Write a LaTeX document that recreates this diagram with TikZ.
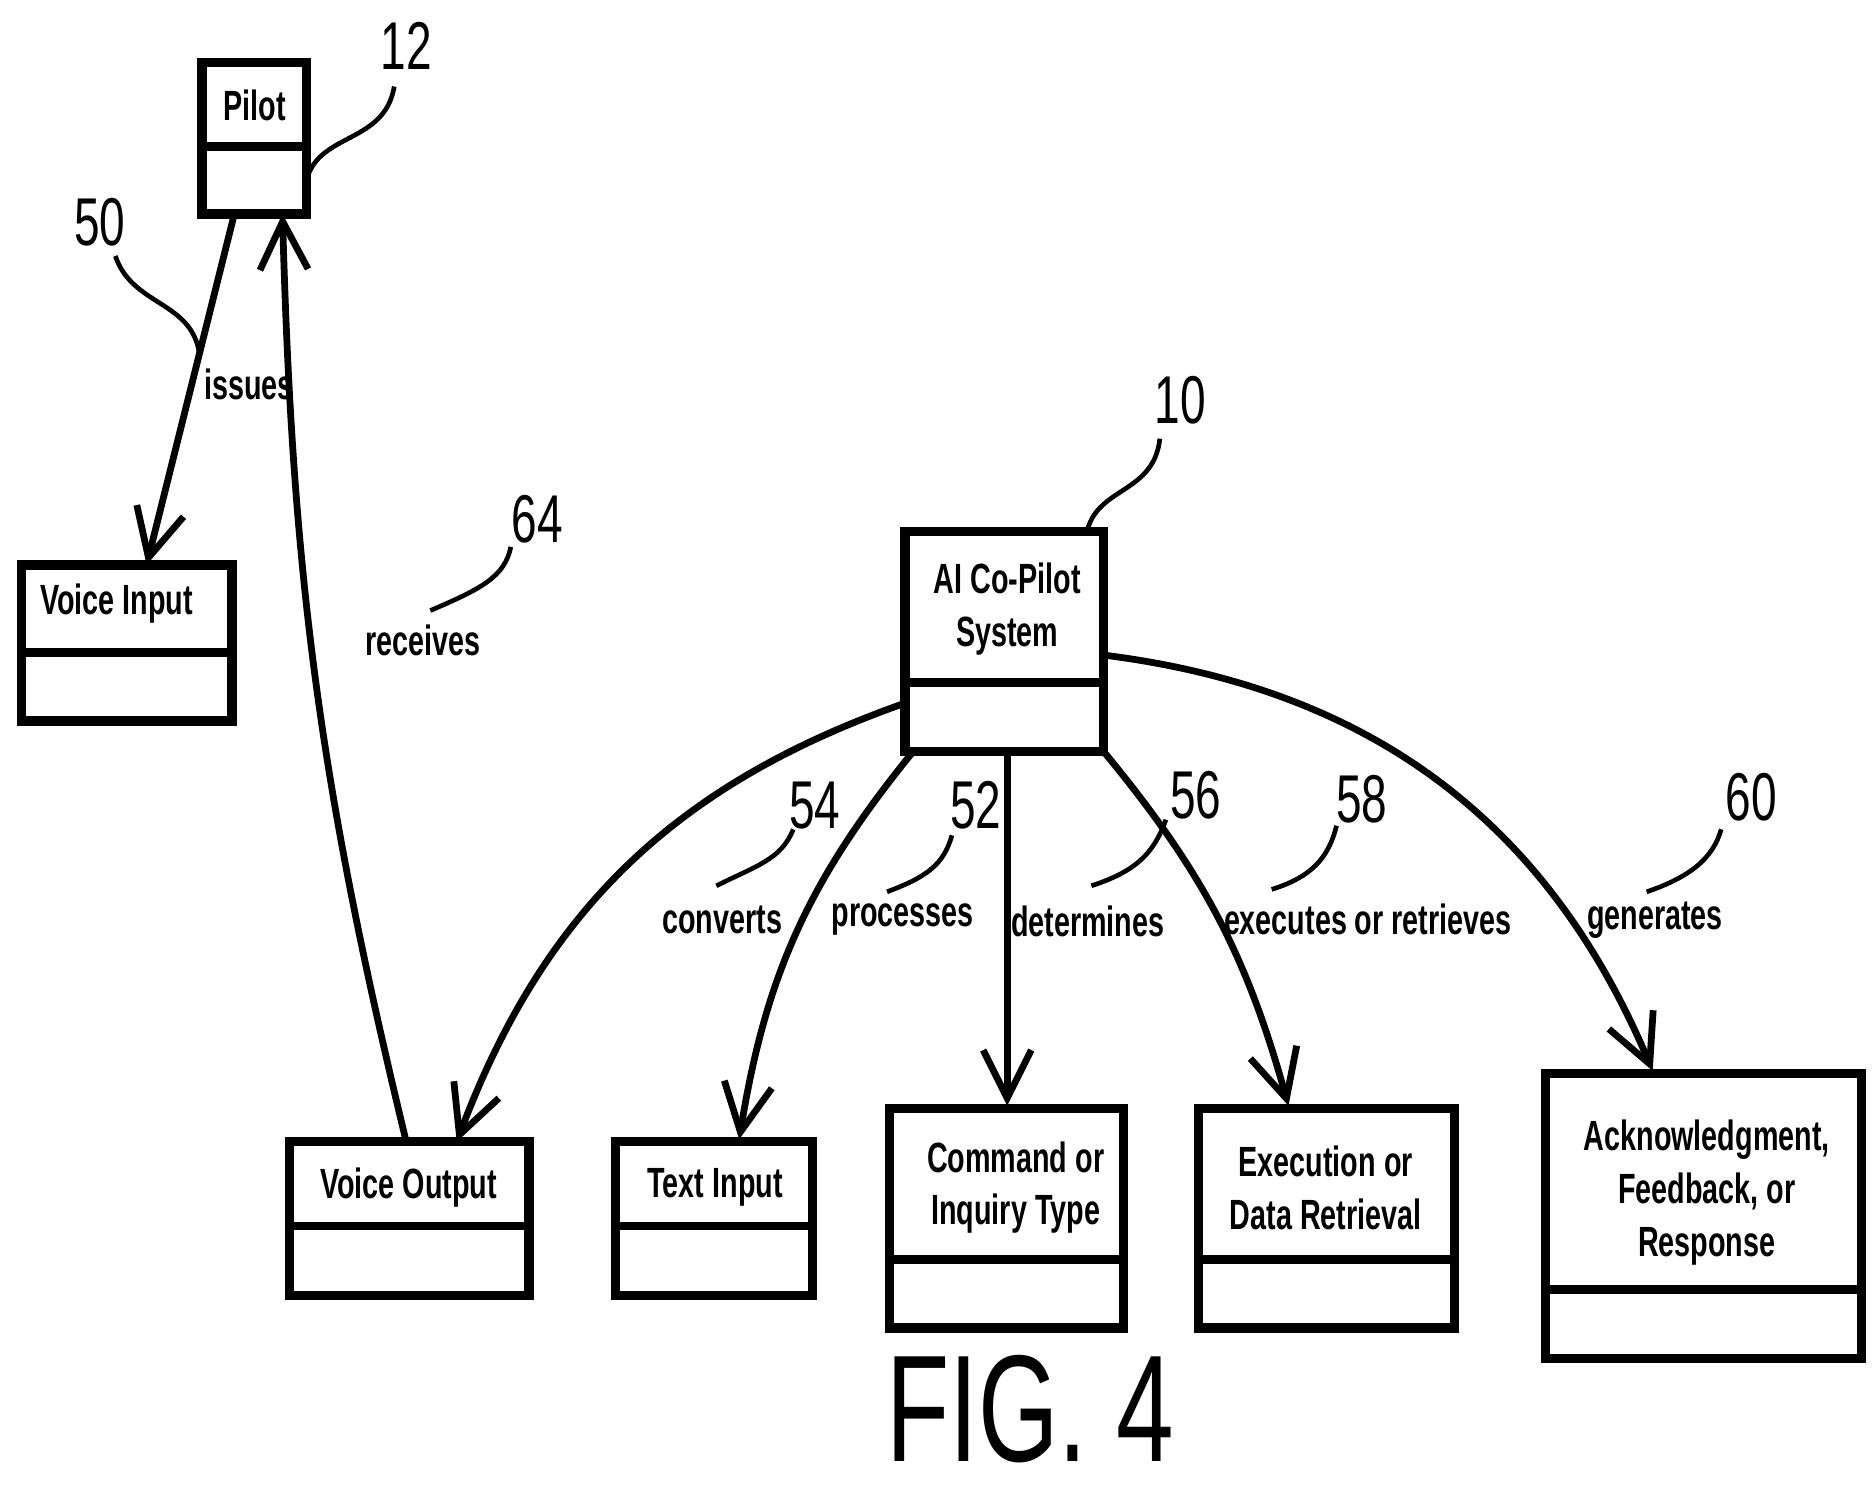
\documentclass[tikz,border=0pt]{standalone}
\usepackage{fontspec}
\newfontfamily\narrow{Liberation Sans}[FakeStretch=0.68]
\usetikzlibrary{arrows.meta}
\begin{document}
\begin{tikzpicture}[x=0.01cm,y=-0.01cm,
  box/.style={draw,line width=2.2pt},
  dv/.style={line width=2pt},
  lbl/.style={font=\narrow\bfseries\fontsize{10}{12.5}\selectfont,align=center},
  num/.style={font=\narrow\fontsize{16}{18}\selectfont},
  con/.style={line width=1.6pt,-{Straight Barb[length=4mm,width=4mm,line width=1.6pt]}},
  lead/.style={line width=1.1pt}]
\useasboundingbox (0,0) rectangle (1560,1240);
\newcommand\umlbox[6]{%
  \draw[box] (#2,#3) rectangle (#4,#5);
  \draw[dv] (#2,#6) -- (#4,#6);
  \coordinate (#1-nw) at (#2,#3);}
\umlbox{pilot}{168}{52}{255}{178}{122}
\node[lbl] (pilotT) at (212,88) {Pilot};
\umlbox{vin}{18}{470}{193}{600}{543}
\node[lbl] (vinT) at (97,502) {Voice Input};
\umlbox{ai}{753}{442}{918}{625}{568}
\node[lbl] (aiT) at (838,507) {AI Co-Pilot\\System};
\umlbox{vout}{241}{950}{440}{1078}{1020}
\node[lbl] (voutT) at (340,988) {Voice Output};
\umlbox{tin}{512}{950}{676}{1078}{1020}
\node[lbl] (tinT) at (595,988) {Text Input};
\umlbox{cmd}{740}{922}{935}{1105}{1048}
\node[lbl] (cmdT) at (845,988) {Command or\\Inquiry Type};
\umlbox{exe}{997}{922}{1210}{1105}{1048}
\node[lbl] (exeT) at (1103,988) {Execution or\\Data Retrieval};
\umlbox{ack}{1286}{893}{1549}{1130}{1073}
\node[lbl] (ackT) at (1420,992) {Acknowledgment,\\Feedback, or\\Response};
\coordinate (p1) at (195,178); \coordinate (p2) at (235,178);
\coordinate (vinTop) at (122,470); \coordinate (voutTop) at (338,950);
\coordinate (voutIn) at (380,950);
\coordinate (aiL) at (753,585); \coordinate (aiB1) at (760,625);
\coordinate (aiB2) at (838,625); \coordinate (aiB3) at (918,625);
\coordinate (aiR) at (918,545);
\coordinate (tinTop) at (615,948); \coordinate (cmdTop) at (838,920);
\coordinate (exeTop) at (1072,920); \coordinate (ackTop) at (1375,891);
\draw[con] (p1) -- (vinTop);
\draw[con] (voutTop) to[bend left=6] (p2);
\draw[con] (aiL) to[bend right=25] (voutIn);
\draw[con] (aiB1) to[bend right=15] (tinTop);
\draw[con] (aiB2) -- (cmdTop);
\draw[con] (aiB3) to[bend left=12] (exeTop);
\draw[con] (aiR) to[bend left=30] (ackTop);
\node[lbl] (l1) at (207,320) {issues};
\node[lbl] (l2) at (352,533) {receives};
\node[lbl] (l3) at (601,765) {converts};
\node[lbl] (l4) at (751,765) {processes};
\node[lbl] (l5) at (905,767) {determines};
\node[lbl] (l6) at (1138,765) {executes or retrieves};
\node[lbl] (l7) at (1377,766) {generates};
\node[num] (n12) at (338,38) {12};
\node[num] (n50) at (83,185) {50};
\node[num] (n64) at (447,432) {64};
\node[num] (n10) at (982,333) {10};
\node[num] (n54) at (678,670) {54};
\node[num] (n52) at (812,670) {52};
\node[num] (n56) at (995,662) {56};
\node[num] (n58) at (1133,665) {58};
\node[num] (n60) at (1457,663) {60};
\draw[lead] (255,150) .. controls (265,110) and (320,120) .. (328,72);
\draw[lead] (96,213) .. controls (110,255) and (160,250) .. (166,295);
\draw[lead] (358,508) .. controls (400,490) and (420,480) .. (425,455);
\draw[lead] (905,440) .. controls (915,405) and (960,410) .. (965,365);
\draw[lead] (596,737) .. controls (630,720) and (650,715) .. (660,690);
\draw[lead] (738,742) .. controls (770,730) and (785,720) .. (792,695);
\draw[lead] (908,737) .. controls (945,725) and (960,710) .. (970,682);
\draw[lead] (1058,740) .. controls (1090,730) and (1105,715) .. (1112,687);
\draw[lead] (1370,742) .. controls (1405,730) and (1425,715) .. (1432,690);
\node[font=\narrow\fontsize{36}{38}\selectfont] (fig) at (857,1172) {FIG. 4};
\end{tikzpicture}
\end{document}
